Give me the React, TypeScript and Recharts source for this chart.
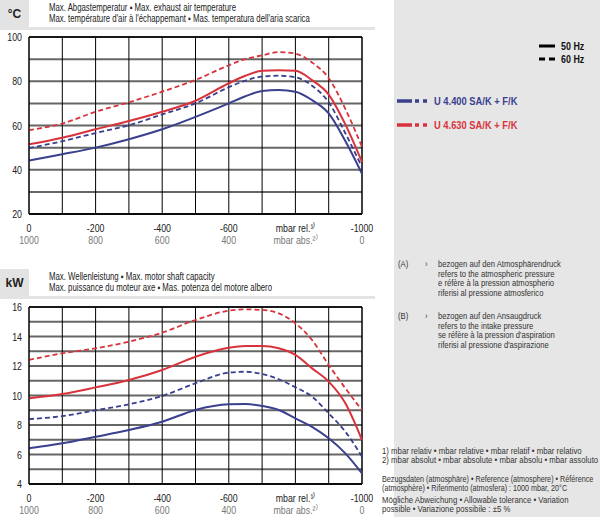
import React from 'react';
import { LineChart, Line, XAxis, YAxis, CartesianGrid, ReferenceLine } from 'recharts';

// mbar relative (x axis), 0 on the left, -1000 on the right
const pressure = [0, -100, -200, -300, -400, -500, -600, -650, -700, -750, -800, -850, -900, -950, -1000];

// Max. exhaust air temperature, °C
const temp4400at50 = [44.2, 47, 50, 53.8, 58.3, 63.9, 70, 73.2, 75.6, 76, 75.3, 71.5, 65.5, 53, 38.2];
const temp4400at60 = [49.8, 52.9, 56.6, 60.1, 65, 70, 77.3, 80.3, 82.1, 82.5, 81.8, 78, 70.5, 56.5, 41.2];
const temp4630at50 = [51.5, 54.5, 58.3, 62, 66.2, 71.2, 79.1, 82.5, 84.7, 85, 84.7, 80.5, 74, 60.5, 43.5];
const temp4630at60 = [57.9, 60.9, 66.2, 70.5, 75.3, 80.6, 87.2, 90, 91.7, 93.2, 92.5, 88.5, 81.4, 67.5, 50.3];

// Max. motor shaft capacity, kW
const power4400at50 = [6.42, 6.76, 7.2, 7.66, 8.22, 9.02, 9.4, 9.42, 9.29, 9.02, 8.45, 7.88, 7.1, 6.08, 4.72];
const power4400at60 = [8.4, 8.6, 9.0, 9.4, 9.97, 10.83, 11.55, 11.61, 11.46, 11.1, 10.56, 9.92, 8.79, 7.55, 5.85];
const power4630at50 = [9.81, 10.1, 10.55, 11.05, 11.73, 12.63, 13.24, 13.36, 13.36, 13.2, 12.75, 11.84, 10.94, 9.47, 6.98];
const power4630at60 = [12.41, 12.86, 13.2, 13.65, 14.26, 15.12, 15.75, 15.84, 15.8, 15.57, 14.9, 13.76, 12.07, 10.49, 9.0];

const xTicks = [0, -100, -200, -300, -400, -500, -600, -700, -800, -900, -1000];
const relLabels: Record<number, string> = { 0: '0', '-200': '-200', '-400': '-400', '-600': '-600', '-800': 'mbar rel.¹⁾', '-1000': '-1000' };
const absLabels: Record<number, string> = { 0: '1000', '-200': '800', '-400': '600', '-600': '400', '-800': 'mbar abs.²⁾', '-1000': '0' };

const tempTicks = [20, 30, 40, 50, 60, 70, 80, 90, 100];
const powerTicks = [4, 5, 6, 7, 8, 9, 10, 11, 12, 13, 14, 15, 16];

const BLUE = '#3a3f8e';
const RED = '#d8333c';
const FONT = '"Liberation Sans", Arial, sans-serif';
const SQUEEZE = 0.8;

const buildRows = (a: number[], b: number[], c: number[], d: number[]) =>
  pressure.map((p, i) => ({ p, b50: a[i], b60: b[i], r50: c[i], r60: d[i] }));

const tempData = buildRows(temp4400at50, temp4400at60, temp4630at50, temp4630at60);
const powerData = buildRows(power4400at50, power4400at60, power4630at50, power4630at60);

const XTick = (props: any) => {
  const { x, y, payload } = props;
  const v = payload.value;
  if (relLabels[v] === undefined) return null;
  return (
    <g>
      <text transform={`translate(${x} ${y + 16}) scale(${SQUEEZE} 1)`} textAnchor="middle" fontSize={11} fill="#222" fontFamily={FONT}>{relLabels[v]}</text>
      <text transform={`translate(${x} ${y + 28}) scale(${SQUEEZE} 1)`} textAnchor="middle" fontSize={11} fill="#777" fontFamily={FONT}>{absLabels[v]}</text>
    </g>
  );
};

const makeYTick = (step: number, base: number) => (props: any) => {
  const { y, payload } = props;
  const v = payload.value;
  if ((v - base) % step !== 0) return null;
  return (
    <text transform={`translate(22 ${y + 4}) scale(${SQUEEZE} 1)`} textAnchor="end" fontSize={11} fill="#222" fontFamily={FONT}>{v}</text>
  );
};

const renderChart = (data: any[], ticks: number[], domain: [number, number], yTick: any, top: number, height: number) => (
  <LineChart width={380} height={height} data={data} margin={{ top, right: 18, bottom: 6, left: 0 }}>
    <CartesianGrid horizontal vertical={false} stroke="#666" strokeWidth={2} />
    <CartesianGrid horizontal={false} vertical stroke="#000" strokeWidth={1} />
    <XAxis dataKey="p" type="number" domain={[-1000, 0]} reversed ticks={xTicks} interval={0}
      height={30} tickSize={0} tickLine={false} axisLine={{ stroke: '#000' }} tick={<XTick />} />
    <YAxis type="number" domain={domain} ticks={ticks} interval={0} width={29} tickSize={0}
      tickLine={false} axisLine={{ stroke: '#000' }} tick={yTick} />
    <ReferenceLine y={domain[1]} stroke="#000" strokeWidth={1.5} />
    <ReferenceLine y={domain[0]} stroke="#000" strokeWidth={1.5} />
    <ReferenceLine x={-1000} stroke="#000" />
    <Line type="monotone" dataKey="r60" stroke={RED} strokeWidth={1.8} strokeDasharray="5 3" dot={false} isAnimationActive={false} />
    <Line type="monotone" dataKey="b60" stroke={BLUE} strokeWidth={1.8} strokeDasharray="5 3" dot={false} isAnimationActive={false} />
    <Line type="monotone" dataKey="r50" stroke={RED} strokeWidth={2} dot={false} isAnimationActive={false} />
    <Line type="monotone" dataKey="b50" stroke={BLUE} strokeWidth={2} dot={false} isAnimationActive={false} />
  </LineChart>
);

const squeezed: React.CSSProperties = { transform: `scaleX(0.85)`, transformOrigin: '0 0' };

const Header = ({ top, unit, line1, line2 }: { top: number; unit: string; line1: string; line2: string }) => (
  <>
    <div style={{ position: 'absolute', left: 0, top, width: 29, height: 28, background: '#e3e3e3',
      fontFamily: FONT, fontSize: 12, fontWeight: 'bold', color: '#222', lineHeight: '28px', textAlign: 'center' }}>{unit}</div>
    <div style={{ position: 'absolute', left: 0, top: top + 27, width: 375, height: 3, background: '#e3e3e3' }} />
    <div style={{ position: 'absolute', left: 49, top: top + 2, fontFamily: FONT, fontSize: 10, color: '#222', lineHeight: '11px', whiteSpace: 'nowrap', transform: 'scaleX(0.78)', transformOrigin: '0 0' }}>
      <div>{line1}</div>
      <div>{line2}</div>
    </div>
  </>
);

const noteStyle: React.CSSProperties = { position: 'absolute', fontFamily: FONT, fontSize: 9, color: '#333', lineHeight: '9.5px', whiteSpace: 'nowrap', ...squeezed };
const footStyle: React.CSSProperties = { ...noteStyle, fontSize: 8.2, lineHeight: '9px', transform: 'scaleX(0.95)' };

const LegendKey = ({ top, color, label }: { top: number; color: string; label: string }) => (
  <div style={{ position: 'absolute', left: 397, top: top - 6, height: 12, width: 200 }}>
    <svg width={32} height={12} style={{ position: 'absolute', left: 0, top: 0 }}>
      <line x1={0} x2={15} y1={6} y2={6} stroke={color} strokeWidth={3.5} />
      <line x1={18} x2={22} y1={6} y2={6} stroke={color} strokeWidth={3.5} />
      <line x1={26} x2={30} y1={6} y2={6} stroke={color} strokeWidth={3.5} />
    </svg>
    <span style={{ position: 'absolute', left: 37, top: 0, fontFamily: FONT, fontSize: 11, fontWeight: 'bold', color, lineHeight: '12px', whiteSpace: 'nowrap', ...squeezed }}>{label}</span>
  </div>
);

export default function App() {
  return (
    <div style={{ position: 'absolute', left: 0, top: 0, width: 600, height: 520, background: '#fff', overflow: 'hidden' }}>
      <div style={{ position: 'absolute', left: 394, top: 0, width: 206, height: 517, background: '#e6e6e6' }} />

      <Header top={0} unit="°C" line1="Max. Abgastemperatur ▪ Max. exhaust air temperature"
        line2="Max. température d'air à l'échappemant ▪ Mas. temperatura dell'aria scarica" />
      <Header top={269} unit="kW" line1="Max. Wellenleistung ▪ Max. motor shaft capacity"
        line2="Max. puissance du moteur axe ▪ Mas. potenza del motore albero" />

      <div style={{ position: 'absolute', left: 0, top: 0 }}>
        {renderChart(tempData, tempTicks, [20, 100], makeYTick(20, 20), 37, 250)}
      </div>
      <div style={{ position: 'absolute', left: 0, top: 250 }}>
        {renderChart(powerData, powerTicks, [4, 16], makeYTick(2, 4), 57, 270)}
      </div>

      <svg width={20} height={20} style={{ position: 'absolute', left: 538, top: 36 }}>
        <line x1={1} x2={17} y1={10} y2={10} stroke="#000" strokeWidth={3} />
      </svg>
      <div style={{ ...noteStyle, left: 561, top: 40, fontSize: 10.5, fontWeight: 'bold', color: '#111', lineHeight: '12px' }}>50 Hz</div>
      <svg width={20} height={20} style={{ position: 'absolute', left: 538, top: 49 }}>
        <line x1={1} x2={7} y1={10} y2={10} stroke="#000" strokeWidth={3} />
        <line x1={11} x2={17} y1={10} y2={10} stroke="#000" strokeWidth={3} />
      </svg>
      <div style={{ ...noteStyle, left: 561, top: 53, fontSize: 10.5, fontWeight: 'bold', color: '#111', lineHeight: '12px' }}>60 Hz</div>

      <LegendKey top={101} color={BLUE} label="U 4.400 SA/K + F/K" />
      <LegendKey top={125} color={RED} label="U 4.630 SA/K + F/K" />

      <div style={{ ...noteStyle, left: 398, top: 260 }}>(A)</div>
      <div style={{ ...noteStyle, left: 425, top: 260 }}>›</div>
      <div style={{ ...noteStyle, left: 438, top: 260 }}>
        <div>bezogen auf den Atmosphärendruck</div>
        <div>refers to the atmospheric pressure</div>
        <div>e réfère à la pression atmospherio</div>
        <div>riferisi al pressione atmosferico</div>
      </div>
      <div style={{ ...noteStyle, left: 398, top: 312 }}>(B)</div>
      <div style={{ ...noteStyle, left: 425, top: 312 }}>›</div>
      <div style={{ ...noteStyle, left: 438, top: 312 }}>
        <div>bezogen auf den Ansaugdruck</div>
        <div>refers to the intake pressure</div>
        <div>se réfère à la pression d'aspiration</div>
        <div>riferisi al pressione d'aspirazione</div>
      </div>

      <div style={{ ...footStyle, left: 382, top: 447 }}>
        <div>1) mbar relativ • mbar relative • mbar relatif • mbar relativo</div>
        <div>2) mbar absolut • mbar absolute • mbar absolu • mbar assoluto</div>
      </div>
      <div style={{ ...footStyle, left: 382, top: 475, transform: 'scaleX(0.88)' }}>
        <div>Bezugsdaten (atmosphäre) • Reference (atmosphere) • Référence</div>
        <div>(atmosphère) • Riferimento (atmosfera) : 1000 mbar, 20°C</div>
      </div>
      <div style={{ ...footStyle, left: 382, top: 496 }}>
        <div>Mögliche Abweichung • Allowable tolerance • Variation</div>
        <div>possible • Variazione possibile : ±5 %</div>
      </div>
    </div>
  );
}
